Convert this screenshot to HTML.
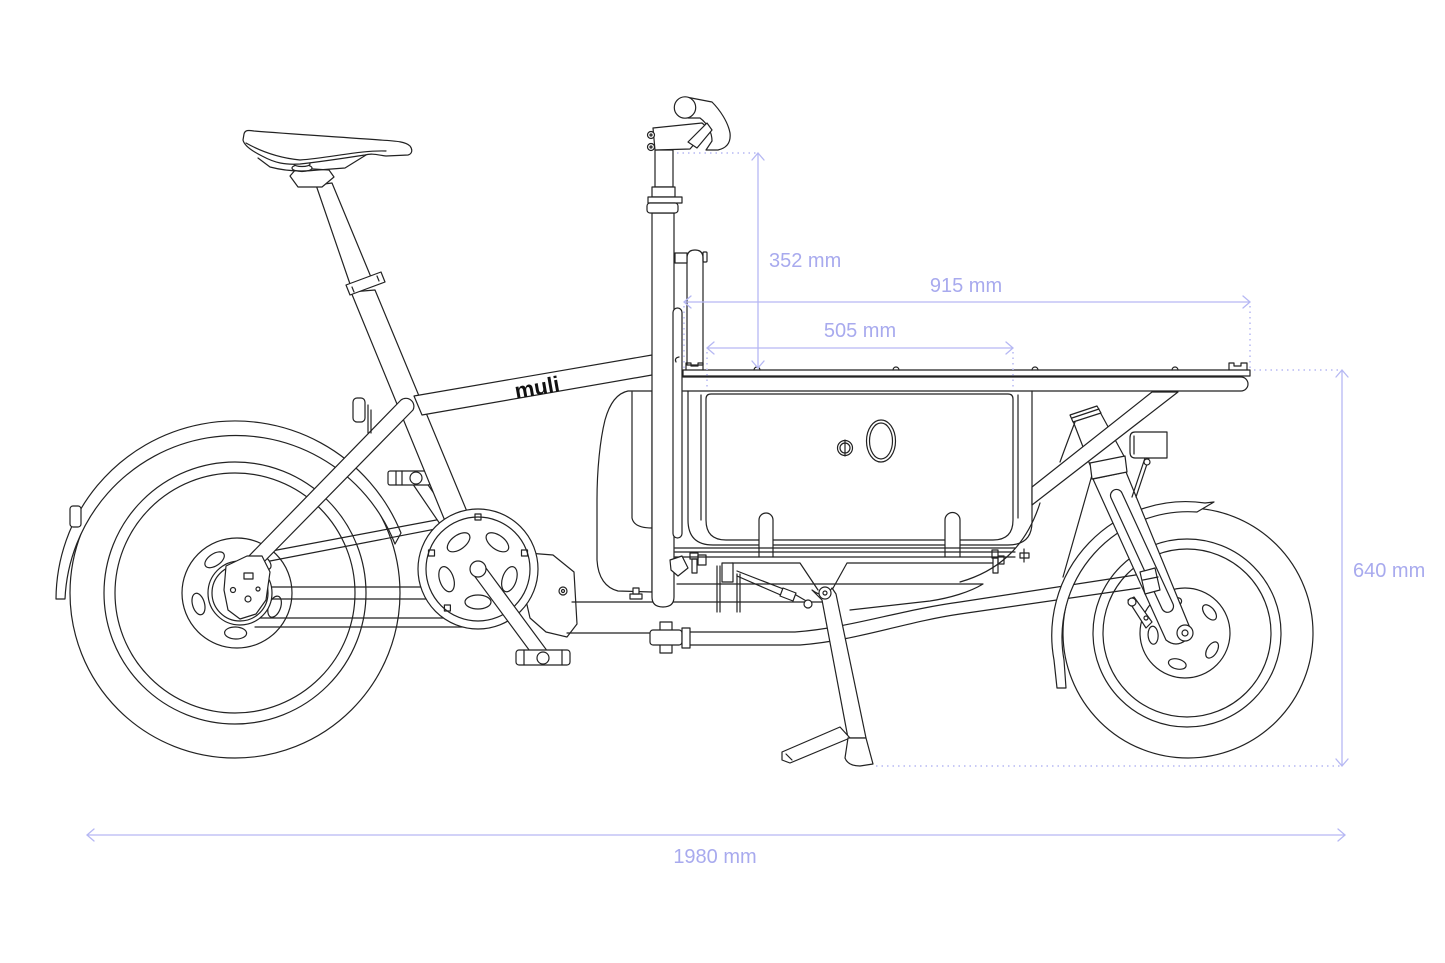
<!DOCTYPE html>
<html><head><meta charset="utf-8"><style>
html,body{margin:0;padding:0;background:#fff;}
svg{display:block;}
</style></head><body>
<svg width="1445" height="963" viewBox="0 0 1445 963" xmlns="http://www.w3.org/2000/svg">
<rect width="1445" height="963" fill="#fff"/>
<g fill="none" stroke="#222" stroke-width="1.2" stroke-linejoin="round" stroke-linecap="round">

<!-- ===== REAR WHEEL ===== -->
<circle cx="235" cy="593" r="165"/>
<circle cx="235" cy="593" r="131"/>
<circle cx="235" cy="593" r="120"/>
<path fill="#fff" d="M56,599 A179,179 0 0 1 401,533 L395,544 A171,171 0 0 0 65,599 Z"/>
<rect x="70" y="506" width="11" height="21" rx="3" fill="#fff"/>
<!-- rotor -->
<circle cx="237" cy="593" r="55" fill="#fff"/>
<ellipse cx="274.6" cy="606.7" rx="11" ry="6" transform="rotate(110 274.6 606.7)"/>
<ellipse cx="235.6" cy="633" rx="11" ry="6" transform="rotate(182 235.6 633)"/>
<ellipse cx="198.5" cy="604" rx="11" ry="6" transform="rotate(254 198.5 604)"/>
<ellipse cx="214.6" cy="559.8" rx="11" ry="6" transform="rotate(326 214.6 559.8)"/>
<ellipse cx="261.6" cy="561.5" rx="11" ry="6" transform="rotate(38 261.6 561.5)"/>
<!-- belt / stays -->
<line x1="261" y1="553" x2="447" y2="518"/>
<line x1="270" y1="561" x2="446" y2="527"/>
<line x1="262" y1="587" x2="430" y2="587"/>
<line x1="262" y1="599" x2="440" y2="599"/>
<line x1="250" y1="618" x2="470" y2="618"/>
<line x1="255" y1="627" x2="470" y2="627"/>
<circle cx="240" cy="593" r="32" fill="#fff"/>
<circle cx="240" cy="593" r="28"/>

<!-- rear pedal (behind) -->
<polygon fill="#fff" points="483.6,565.6 421,474.6 411,481.4 473,572.4"/>
<rect x="388" y="471" width="42" height="14" rx="2" fill="#fff"/>
<line x1="396" y1="471" x2="396" y2="485"/>
<line x1="402" y1="471" x2="402" y2="485"/>
<circle cx="416" cy="478" r="6" fill="#fff"/>

<!-- seat tube / top tube / seatpost -->
<path fill="#fff" d="M351,292 L445,521 L468,514 L375,290 Z"/>
<path fill="#fff" d="M414,396 L652,355 L652,375 L422,415 Z"/>
<path fill="#fff" d="M316,185 L350,284 L373,282 L332,183 Z"/>
<path fill="#fff" d="M346,285 L381,272 L385,282 L350,295 Z"/>
<line x1="352" y1="287" x2="354" y2="292"/>
<line x1="377" y1="276" x2="379" y2="281"/>
<!-- seatstay -->
<path fill="#fff" d="M247,558 L401,400 A8,8 0 0 1 413,410 L257,569 Z"/>
<!-- dropout plate -->
<path fill="#fff" d="M226,566 L247,556 L262,556 L270,572 L266,600 L256,614 L240,619 L228,610 L224,590 Z"/>
<rect x="244" y="573" width="9" height="6"/>
<circle cx="233" cy="590" r="2.5"/>
<circle cx="258" cy="589" r="2"/>
<circle cx="248" cy="599" r="3"/>
<!-- seat tube reflector -->
<rect x="353" y="398" width="12" height="24" rx="4" fill="#fff"/>
<line x1="368" y1="405" x2="368" y2="433"/>
<line x1="371" y1="410" x2="371" y2="433"/>

<!-- seatpost head + saddle -->
<path fill="#fff" d="M290,176 L297,168 L329,170 L334,177 L322,187 L298,187 Z"/>
<ellipse cx="302" cy="168" rx="10" ry="3.5" fill="#fff"/>
<ellipse cx="302" cy="164" rx="8" ry="2.5" fill="#fff"/>
<path d="M258,158 L270,167 C285,171 300,172 318,170 L345,168 L366,155"/>
<path fill="#fff" d="M244,134 C245,130 248,130 254,131 C290,134 340,137 380,140 C398,141 406,142 410,146 C413,150 412,154 408,155 L386,156 C378,155 372,153 365,155 C345,158 320,162 300,164 C285,165 275,163 262,156 C250,150 244,145 243,140 Z"/>
<path d="M246,143 C262,152 280,158 300,160 C330,158 360,150 386,151"/>

<!-- motor housing -->
<path fill="#fff" d="M515,552 L553,555 L574,572 L577,624 L567,637 L546,632 L530,618 Z"/>
<circle cx="563" cy="591" r="4"/>
<circle cx="563" cy="591" r="1.5"/>
<!-- chainring -->
<circle cx="478" cy="569" r="60" fill="#fff"/>
<circle cx="478" cy="569" r="52"/>
<rect x="475" y="514" width="6" height="6"/>
<rect x="521.5" y="550" width="6" height="6"/>
<rect x="505.6" y="605" width="6" height="6"/>
<rect x="444.4" y="605" width="6" height="6"/>
<rect x="428.5" y="550" width="6" height="6"/>
<ellipse cx="497.4" cy="542.3" rx="13" ry="7" transform="rotate(36 497.4 542.3)"/>
<ellipse cx="509.4" cy="579.2" rx="13" ry="7" transform="rotate(108 509.4 579.2)"/>
<ellipse cx="478" cy="602" rx="13" ry="7" transform="rotate(180 478 602)"/>
<ellipse cx="446.6" cy="579.2" rx="13" ry="7" transform="rotate(252 446.6 579.2)"/>
<ellipse cx="458.6" cy="542.3" rx="13" ry="7" transform="rotate(324 458.6 542.3)"/>
<polygon fill="#fff" points="483.6,564.8 548.6,652.8 537.4,661.2 472.4,573.2"/>
<circle cx="478" cy="569" r="8" fill="#fff"/>
<rect x="516" y="650" width="54" height="15" rx="3" fill="#fff"/>
<line x1="524" y1="650" x2="524" y2="665"/>
<line x1="562" y1="650" x2="562" y2="665"/>
<circle cx="543" cy="658" r="6" fill="#fff"/>

<!-- lower beam -->
<line x1="572" y1="602" x2="830" y2="602"/>
<line x1="567" y1="633" x2="652" y2="633"/>

<!-- bag -->
<path fill="#fff" d="M628,391 C618,393 610,402 605,420 C600,440 597,470 597,500 L597,560 C598,578 606,588 618,591 L652,592 L652,391 Z"/>
<path d="M632,392 V518 Q634,528 652,528"/>
<rect x="630" y="594" width="12" height="5" fill="#fff"/>
<rect x="633" y="588" width="6" height="6" fill="#fff"/>

<!-- main post -->
<path fill="#fff" d="M652,213 V597 Q652,607 663,607 Q674,607 674,597 V213 Z"/>
<rect x="655" y="150" width="18" height="37" fill="#fff"/>
<rect x="652" y="187" width="23" height="10" fill="#fff"/>
<rect x="648" y="197" width="34" height="6" fill="#fff"/>
<rect x="647" y="203" width="31" height="10" rx="3" fill="#fff"/>
<!-- stem -->
<path fill="#fff" d="M653,128 L702,123 L708,128 L690,149 L655,150 Z"/>
<circle cx="651" cy="135" r="3.5" fill="#fff"/>
<circle cx="651" cy="147" r="3.5" fill="#fff"/>
<circle cx="651" cy="135" r="1"/>
<circle cx="651" cy="147" r="1"/>
<!-- handlebar -->
<path fill="#fff" d="M686,97 L712,102 C720,110 728,122 730,133 C731,142 727,148 718,150 L706,150 L712,141 C712,133 708,124 700,118 L688,118 Z"/>
<path fill="#fff" d="M688,142 L707,123 L712,130 L697,148 Z"/>
<circle cx="685" cy="107.5" r="10.7" fill="#fff"/>

<!-- thin tube + box front post -->
<rect x="673" y="308" width="9" height="230" rx="4.5" fill="#fff"/>
<path d="M679,357 Q674,358 676,362"/>
<path fill="#fff" d="M687,365 V258 Q687,250 695,250 Q703,250 703,258 V365 Z"/>
<rect x="675" y="253" width="12" height="10" fill="#fff"/>
<rect x="703" y="252" width="4" height="10" rx="1"/>

<!-- deck -->
<rect x="683" y="370" width="567" height="6" fill="#fff"/>
<path fill="#fff" d="M683,377 H1241 A7,7 0 0 1 1241,391 H683"/>
<path d="M686,370 V363 H691 V366 H698 V363 H703 V370"/>
<path d="M1229,370 V363 H1234 V366 H1241 V363 H1247 V370"/>
<path d="M754,370 A3,3 0 0 1 760,370 M893,370 A3,3 0 0 1 899,370 M1032,370 A3,3 0 0 1 1038,370 M1172,370 A3,3 0 0 1 1178,370"/>

<!-- box -->
<path d="M688,391 V520 Q688,545 713,545 H1008 Q1032,545 1032,522 V391"/>
<path fill="#fff" d="M706,399 Q706,394 711,394 H1008 Q1013,394 1013,399 V520 Q1013,540 993,540 H726 Q706,540 706,520 Z"/>
<line x1="701" y1="395" x2="701" y2="520"/>
<line x1="1018" y1="395" x2="1018" y2="518"/>
<ellipse cx="881" cy="441" rx="14.5" ry="21"/>
<ellipse cx="881" cy="441" rx="11.5" ry="18"/>
<circle cx="845" cy="448" r="7.5"/>
<circle cx="845" cy="448" r="5"/>
<line x1="845" y1="440" x2="845" y2="456"/>
<path fill="#fff" d="M759,557 V520 A7,7 0 0 1 773,520 V557"/>
<path fill="#fff" d="M945,557 V520 A7.5,7.5 0 0 1 960,520 V557"/>
<line x1="675" y1="548" x2="1015" y2="548"/>
<line x1="675" y1="552" x2="1015" y2="552"/>
<line x1="675" y1="557" x2="1015" y2="557"/>
<!-- bolts -->
<rect x="690" y="553" width="8" height="6"/><rect x="692" y="559" width="5" height="14"/><rect x="698" y="555" width="8" height="10"/>
<rect x="992" y="550" width="6" height="8"/><rect x="993" y="558" width="5" height="15"/><rect x="998" y="556" width="6" height="8"/>
<rect x="1020" y="553" width="9" height="5"/><line x1="1024" y1="549" x2="1024" y2="562"/>
<path fill="#fff" d="M670,560 L682,556 L688,568 L678,576 L671,570 Z"/>

<!-- kickstand / lower cargo frame -->
<path d="M732,563 H800 L818,590 M832,590 L847,563 H993"/>
<path d="M677,584 H983 C970,592 950,598 930,601 L850,610"/>
<rect x="722" y="563" width="11" height="19" fill="#fff"/>
<line x1="717" y1="566" x2="717" y2="612"/><line x1="720" y1="566" x2="720" y2="612"/>
<line x1="737" y1="574" x2="737" y2="612"/><line x1="740" y1="574" x2="740" y2="612"/>
<path d="M737,571 L786,590 M737,576 L783,596"/>
<path fill="#fff" d="M783,588 L796,593 L793,601 L780,596 Z"/>
<path d="M796,595 L808,602"/>
<circle cx="808" cy="604" r="4" fill="#fff"/>
<!-- steering rod -->
<path d="M690,632 H795 C850,628 900,610 960,602 L1142,574"/>
<path d="M690,645 H800 C855,641 905,622 960,614 L1140,588"/>
<path d="M960,582 C995,572 1025,550 1040,503"/>
<!-- connector -->
<rect x="660" y="622" width="12" height="31" fill="#fff"/>
<rect x="650" y="630" width="32" height="15" rx="3" fill="#fff"/>
<rect x="682" y="628" width="8" height="20" fill="#fff"/>
<!-- kickstand leg -->
<path fill="#fff" d="M812,590 L822,600 L848,738 L866,738 L836,594 L832,588 Q825,600 812,590 Z"/>
<circle cx="825" cy="593" r="6" fill="#fff"/>
<circle cx="825" cy="593" r="2"/>
<path fill="#fff" d="M782,752 L840,727 L850,738 L790,763 L782,760 Z"/>
<path d="M786,754 L792,760"/>
<path fill="#fff" d="M848,738 L845,758 Q848,766 860,766 L873,764 L866,738 Z"/>

<!-- ===== FRONT WHEEL ===== -->
<circle cx="1188" cy="633" r="125"/>
<circle cx="1187" cy="633" r="94"/>
<circle cx="1187" cy="633" r="84"/>
<path fill="#fff" d="M1057,688 L1054,660 A134,134 0 0 1 1205,503 L1214,502 L1197,512 A126,126 0 0 0 1064,660 L1066,688 Z"/>
<circle cx="1185" cy="633" r="45" fill="#fff"/>
<ellipse cx="1209.5" cy="612.4" rx="9" ry="5" transform="rotate(50 1209.5 612.4)"/>
<ellipse cx="1212.1" cy="650" rx="9" ry="5" transform="rotate(122 1212.1 650)"/>
<ellipse cx="1177.3" cy="664" rx="9" ry="5" transform="rotate(194 1177.3 664)"/>
<ellipse cx="1153.1" cy="635.2" rx="9" ry="5" transform="rotate(266 1153.1 635.2)"/>
<ellipse cx="1173" cy="603.3" rx="9" ry="5" transform="rotate(338 1173 603.3)"/>
<!-- head tube, fork -->
<path fill="#fff" d="M1073,421 L1100,412 L1125,458 L1090,465 Z"/>
<path fill="#fff" d="M1070,415 L1097,406 L1101,413 L1073,422 Z"/>
<line x1="1072" y1="418" x2="1099" y2="409"/>
<path d="M1075,422 Q1068,440 1060,462"/>
<path d="M1092,475 L1063,577"/>
<path fill="#fff" d="M1093,479 L1166,640 Q1176,648 1186,640 L1190,628 L1126,472 Z"/>
<rect x="-6" y="0" width="12" height="134" rx="6" transform="translate(1114,490) rotate(-24.7)"/>
<path fill="#fff" d="M1090,463 L1125,456 L1127,472 L1092,479 Z"/>
<!-- truss -->
<path fill="#fff" d="M1032,487 L1152,392 L1178,392 L1032,505 Z"/>
<!-- headlight -->
<path d="M1145,458 L1132,497 M1149,458 L1136,497"/>
<circle cx="1147" cy="462" r="3" fill="#fff"/>
<path fill="#fff" d="M1135,432 H1167 V458 H1135 Q1130,458 1130,452 V438 Q1130,432 1135,432 Z"/>
<line x1="1134" y1="436" x2="1134" y2="454"/>
<!-- rod end clamp + caliper -->
<path fill="#fff" d="M1140,572 L1155,568 L1160,590 L1145,594 Z"/>
<line x1="1143" y1="580" x2="1158" y2="577"/>
<path fill="#fff" d="M1128,600 L1134,597 L1152,622 L1146,628 Z"/>
<circle cx="1132" cy="602" r="4" fill="#fff"/>
<circle cx="1146" cy="618" r="2"/>
<circle cx="1185" cy="633" r="8" fill="#fff"/>
<circle cx="1185" cy="633" r="3"/>
</g>

<!-- muli logo -->
<text x="537" y="395" text-anchor="middle" transform="rotate(-10 537 387)" font-family="Liberation Sans, sans-serif" font-weight="bold" font-size="22" fill="#111">muli</text>

<!-- ===== DIMENSIONS ===== -->
<g fill="none" stroke="#b6b8f3" stroke-width="1.3" stroke-linecap="round" stroke-linejoin="round">
<line x1="758" y1="153" x2="758" y2="368"/>
<path d="M752,160 L758,153 L764,160 M752,361 L758,368 L764,361"/>
<line x1="684" y1="302" x2="1250" y2="302"/>
<path d="M691,296 L684,302 L691,308 M1243,296 L1250,302 L1243,308"/>
<line x1="707" y1="348" x2="1013" y2="348"/>
<path d="M714,342 L707,348 L714,354 M1006,342 L1013,348 L1006,354"/>
<line x1="1342" y1="370" x2="1342" y2="766"/>
<path d="M1336,377 L1342,370 L1348,377 M1336,759 L1342,766 L1348,759"/>
<line x1="87" y1="835" x2="1345" y2="835"/>
<path d="M94,829 L87,835 L94,841 M1338,829 L1345,835 L1338,841"/>
</g>
<g fill="none" stroke="#b6b8f3" stroke-width="1.5" stroke-dasharray="1.5 4">
<line x1="677" y1="153" x2="756" y2="153"/>
<line x1="1250" y1="306" x2="1250" y2="368"/>
<line x1="684" y1="306" x2="684" y2="368"/>
<line x1="707" y1="352" x2="707" y2="390"/>
<line x1="1013" y1="352" x2="1013" y2="390"/>
<line x1="1254" y1="370" x2="1340" y2="370"/>
<line x1="876" y1="766" x2="1340" y2="766"/>
</g>
<g font-family="Liberation Sans, sans-serif" font-size="20" fill="#a8aaee">
<text x="769" y="267">352 mm</text>
<text x="966" y="292" text-anchor="middle">915 mm</text>
<text x="860" y="337" text-anchor="middle">505 mm</text>
<text x="1353" y="577">640 mm</text>
<text x="715" y="863" text-anchor="middle">1980 mm</text>
</g>
</svg>
</body></html>
